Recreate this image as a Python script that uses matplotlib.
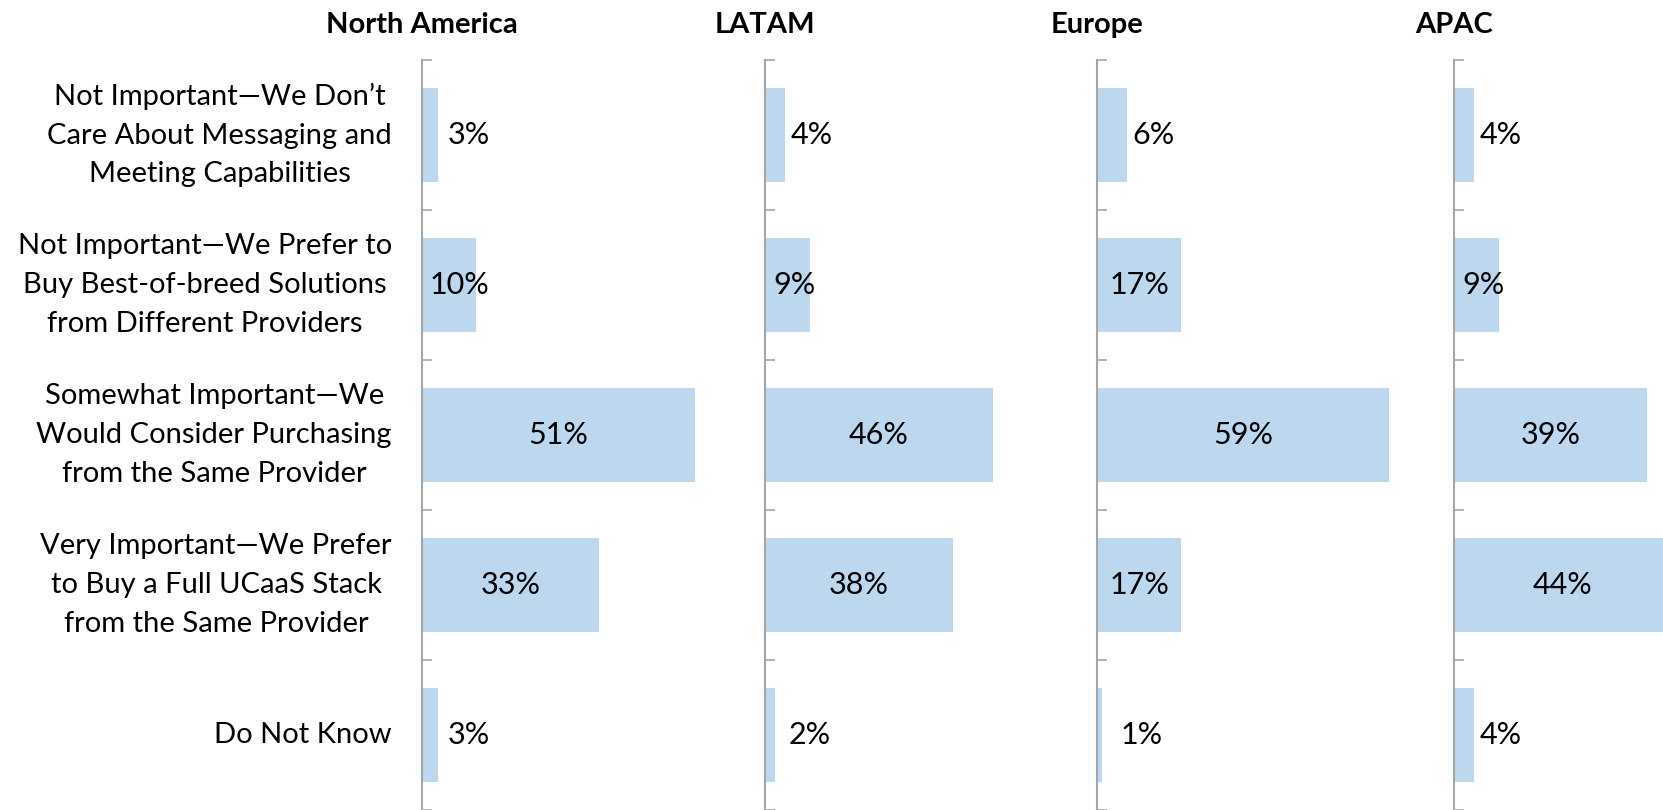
import matplotlib.pyplot as plt
from matplotlib.transforms import blended_transform_factory

plt.rcParams['font.family'] = ['Lato', 'DejaVu Sans']

categories = [
    'Not Important\u2014We Don\u2019t\nCare About Messaging and\nMeeting Capabilities',
    'Not Important\u2014We Prefer to\nBuy Best-of-breed Solutions\nfrom Different Providers',
    'Somewhat Important\u2014We\nWould Consider Purchasing\nfrom the Same Provider',
    'Very Important\u2014We Prefer\nto Buy a Full UCaaS Stack\nfrom the Same Provider',
    'Do Not Know',
]
regions = ['North America', 'LATAM', 'Europe', 'APAC']
north_america = [3, 10, 51, 33, 3]
latam = [4, 9, 46, 38, 2]
europe = [6, 17, 59, 17, 1]
apac = [4, 9, 39, 44, 4]
values = [north_america, latam, europe, apac]

W, H = 1663, 810
bar_color = '#BDD7EE'
axis_color = '#A6A6A6'

# panel layout in pixels: left edge, width, pixels per percent
panels = [(422, 343, 5.35), (765, 332, 4.95), (1097, 357, 4.95), (1454, 209, 4.95)]

fig = plt.figure(figsize=(W / 100, H / 100), dpi=100)
renderer = fig.canvas.get_renderer()
top_px = 60
axes = []
for (left, width, ppp), name, vals in zip(panels, regions, values):
    ax = fig.add_axes([left / W, 0, width / W, (H - top_px) / H])
    y = list(range(len(vals)))
    ax.barh(y, vals, height=0.63, color=bar_color)
    ax.set_xlim(0, width / ppp)
    ax.set_ylim(len(vals) - 0.5, -0.5)
    for s in ['top', 'right', 'bottom']:
        ax.spines[s].set_visible(False)
    ax.spines['left'].set_color(axis_color)
    ax.spines['left'].set_linewidth(1.5)
    ax.set_xticks([])
    ax.set_yticks([i - 0.5 for i in range(len(vals) + 1)])
    ax.set_yticklabels([])
    ax.tick_params(axis='y', direction='in', length=7, width=1.2, color=axis_color)
    for yi, v in zip(y, vals):
        if v >= 9:
            t = ax.text(v / 2, yi, f'{v}%', ha='center', va='center', fontsize=22)
            # keep the label clear of the axis line
            bb = t.get_window_extent(renderer)
            gap = bb.x0 - left
            if gap < 8:
                t.set_x(v / 2 + (8 - gap) / ppp)
        else:
            ax.text(max(v + 1.2, 4.8), yi, f'{v}%', ha='left', va='center', fontsize=22)
    fig.text(left / W, 1 - 25 / H, name, ha='center', va='center',
             fontsize=21, fontweight='bold')
    axes.append(ax)

trans = blended_transform_factory(fig.transFigure, axes[0].transData)
for i, c in enumerate(categories):
    axes[0].text(392 / W, i, c, transform=trans, ha='right', va='center',
                 multialignment='center', fontsize=21, linespacing=1.6,
                 clip_on=False)

fig.savefig('out.png', dpi=100)
